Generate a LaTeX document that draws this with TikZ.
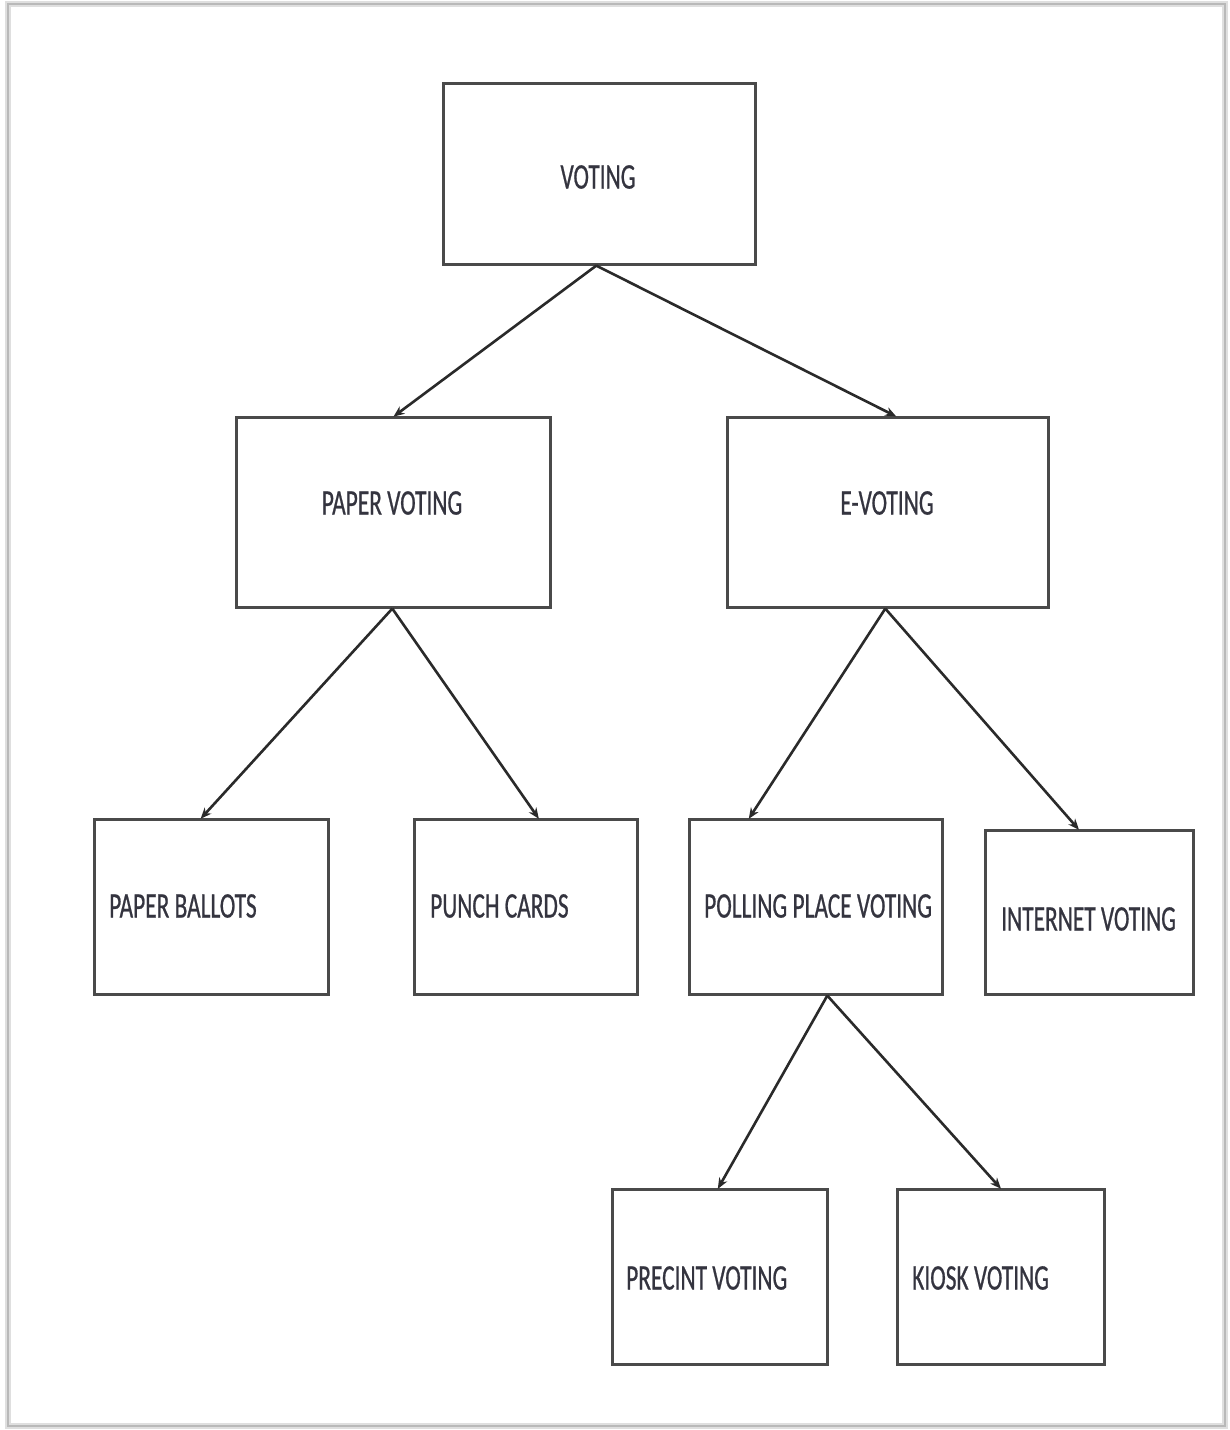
\documentclass[tikz,border=0pt]{standalone}
\usepackage{fontspec}
\newfontfamily\boxfont[FakeStretch=0.65,FakeBold=0.6]{Carlito}
\usetikzlibrary{arrows.meta}
\definecolor{inkline}{HTML}{4A4A4A}
\definecolor{inkarrow}{HTML}{2A2A2A}
\definecolor{inktext}{HTML}{34343F}
\tikzset{
  box/.style={draw=inkline, line width=2.6pt, fill=white, inner sep=0pt},
  lbl/.style={text=inktext, inner sep=0pt, font=\boxfont\fontsize{36}{42}\selectfont},
  link/.style={draw=inkarrow, line width=2.6pt,
    -{Stealth[length=11pt,width=9pt]}, shorten >=-1pt}
}
% a box given by its corner pixels (left, top, right, bottom)
\newcommand{\treebox}[5]{%
  \node[box, minimum width=#4-#2, minimum height=#5-#3, anchor=north west] (#1) at (#2,#3) {};}
\begin{document}
\begin{tikzpicture}[x=1pt, y=-1pt]
  \useasboundingbox (0,0) rectangle (1230,1430);
  \fill[white] (0,0) rectangle (1230,1430);
  % page frame with a soft edge
  \draw[gray!25, line width=6pt] (8,4) rectangle (1225,1426);
  \draw[gray!55, line width=2pt] (8,4) rectangle (1225,1426);

  % boxes
  \treebox{voting}{442}{82}{754}{263}
  \treebox{paper}{235}{416}{549}{606}
  \treebox{evote}{726}{416}{1047}{606}
  \treebox{ballots}{93}{818}{327}{993}
  \treebox{punch}{413}{818}{636}{993}
  \treebox{polling}{688}{818}{941}{993}
  \treebox{internet}{984}{829}{1192}{993}
  \treebox{precinct}{611}{1188}{826}{1363}
  \treebox{kiosk}{896}{1188}{1103}{1363}

  % labels
  \node[lbl] (tvoting) at (598,177) {VOTING};
  \node[lbl] (tpaper) at (392,503) {PAPER VOTING};
  \node[lbl] (tevote) at (887,503) {E-VOTING};
  \node[lbl, anchor=west] (tballots) at (109,906) {PAPER BALLOTS};
  \node[lbl, anchor=west] (tpunch) at (430,906) {PUNCH CARDS};
  \node[lbl, anchor=west] (tpolling) at (704,906) {POLLING PLACE VOTING};
  \node[lbl, anchor=west] (tinternet) at (1001,919) {INTERNET VOTING};
  \node[lbl, anchor=west] (tprecinct) at (626,1278) {PRECINT VOTING};
  \node[lbl, anchor=west] (tkiosk) at (912,1278) {KIOSK VOTING};

  % connectors
  \draw[link] ([xshift=-3pt]voting.south) -- ([xshift=1pt]paper.north);
  \draw[link] ([xshift=-3pt]voting.south) -- ([xshift=7.5pt]evote.north);
  \draw[link] ([xshift=-1pt]paper.south) -- ([xshift=-10pt]ballots.north);
  \draw[link] ([xshift=-1pt]paper.south) -- ([xshift=12.5pt]punch.north);
  \draw[link] ([xshift=-2.5pt]evote.south) -- ([xshift=-66.5pt]polling.north);
  \draw[link] ([xshift=-2.5pt]evote.south) -- ([xshift=-11pt]internet.north);
  \draw[link] ([xshift=11.5pt]polling.south) -- ([xshift=-1.5pt]precinct.north);
  \draw[link] ([xshift=11.5pt]polling.south) -- ([xshift=-0.5pt]kiosk.north);
\end{tikzpicture}
\end{document}
